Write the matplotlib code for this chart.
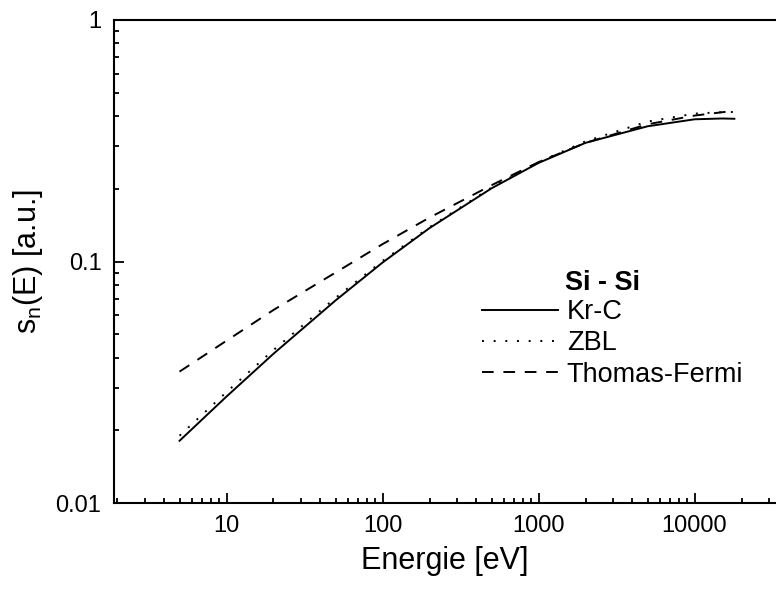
import matplotlib.pyplot as plt
from matplotlib.ticker import FixedLocator, LogLocator, NullFormatter

plt.rcParams['font.family'] = ['Liberation Sans', 'DejaVu Sans']

# energies [eV]
energy = [5, 10, 20, 50, 100, 200, 500, 1000, 2000, 5000, 10000, 15000, 18000]

kr_c = [0.0181, 0.0276, 0.0415, 0.0690, 0.0990, 0.1375, 0.2010, 0.2560,
        0.3100, 0.3630, 0.3880, 0.3910, 0.3900]
zbl = [0.0190, 0.0288, 0.0430, 0.0707, 0.1005, 0.1387, 0.2023, 0.2579,
       0.3145, 0.3797, 0.4095, 0.4154, 0.4160]
thomas_fermi = [0.0350, 0.0470, 0.0630, 0.0900, 0.1180, 0.1520, 0.2070,
                0.2580, 0.3100, 0.3700, 0.4020, 0.4150, 0.4200]

xticks = [10, 100, 1000, 10000]
xticklabels = ['10', '100', '1000', '10000']
yticks = [0.01, 0.1, 1]
yticklabels = ['0.01', '0.1', '1']

W, H = 776, 590
fig = plt.figure(figsize=(W / 100, H / 100), dpi=100)
ax = fig.add_axes([114 / W, 1 - 503 / H, (W - 114) / W, 483 / H])

lw = 1.4
ax.plot(energy, kr_c, color='black', lw=lw, ls='-', label='Kr-C')
ax.plot(energy, zbl, color='black', lw=lw, ls=(0, (1, 5)), label='ZBL')
ax.plot(energy, thomas_fermi, color='black', lw=lw, ls=(0, (6, 5)),
        label='Thomas-Fermi')

ax.set_xscale('log')
ax.set_yscale('log')
ax.set_xlim(1.9, 10 ** 4.522)
ax.set_ylim(0.01, 1)

ax.xaxis.set_major_locator(FixedLocator(xticks))
ax.set_xticklabels(xticklabels)
ax.yaxis.set_major_locator(FixedLocator(yticks))
ax.set_yticklabels(yticklabels)
ax.xaxis.set_minor_locator(LogLocator(base=10, subs=range(2, 10), numticks=20))
ax.yaxis.set_minor_locator(LogLocator(base=10, subs=range(2, 10), numticks=20))
ax.xaxis.set_minor_formatter(NullFormatter())
ax.yaxis.set_minor_formatter(NullFormatter())

ax.tick_params(which='both', direction='in', top=False, right=False,
               width=1.3, labelsize=17)
ax.tick_params(which='major', length=7, pad=9)
ax.tick_params(which='minor', length=3.5)
for s in ax.spines.values():
    s.set_linewidth(1.5)
ax.spines['right'].set_visible(False)

ax.set_xlabel('Energie [eV]', fontsize=22, labelpad=6)
ax.set_ylabel('s$_\\mathregular{n}$(E) [a.u.]', fontsize=22, labelpad=8)

ax.legend(loc='upper left', bbox_to_anchor=(482 / W, 1 - 299 / H),
          bbox_transform=fig.transFigure, frameon=False,
          fontsize=19.5, handlelength=2.8, handletextpad=0.33,
          labelspacing=0.2, borderpad=0, borderaxespad=0)
fig.text(565 / W, 1 - 283 / H, 'Si - Si', fontsize=19.5,
         fontweight='bold', ha='left', va='center')

fig.savefig('out.png', dpi=100)
